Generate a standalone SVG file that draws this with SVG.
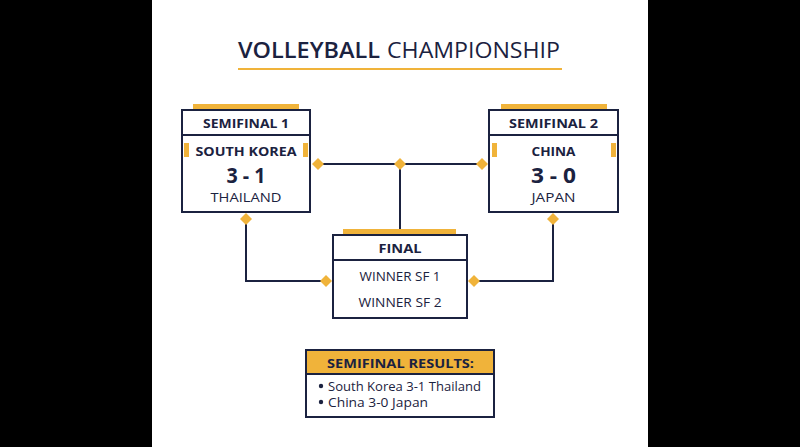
<svg xmlns="http://www.w3.org/2000/svg" width="800" height="447" viewBox="0 0 800 447">
<defs>
<style>
.t{font-family:"Open Sans","Liberation Sans",sans-serif;fill:#1b2240;text-anchor:middle;dominant-baseline:central}
.b{font-weight:700}
.m{font-weight:600}
.box{fill:#fff;stroke:#1b2240;stroke-width:2}
.div{stroke:#1b2240;stroke-width:2}
.gold{fill:#f0b33a}
.ln{fill:none;stroke:#1b2240;stroke-width:2}
</style>
<path id="dm" d="M0,-6 L6,0 L0,6 L-6,0 Z" fill="#f0b33a"/>
</defs>
<rect width="800" height="447" fill="#000"/>
<rect x="152" y="0" width="496" height="447" fill="#fff"/>
<g id="title">
<text class="t m" x="309" y="49" font-size="22" textLength="142" lengthAdjust="spacingAndGlyphs">VOLLEYBALL</text>
<text class="t" x="473.5" y="49" font-size="22" textLength="173" lengthAdjust="spacingAndGlyphs">CHAMPIONSHIP</text>
<rect class="gold" x="238" y="68" width="324" height="2"/>
</g>
<g id="connectors">
<path class="ln" d="M318,164 H482 M400,164 V235 M246,219 V281 H326 M553,219 V281 H474"/>
<use href="#dm" x="318" y="164"/>
<use href="#dm" x="400" y="164"/>
<use href="#dm" x="482" y="164"/>
<use href="#dm" x="246" y="219"/>
<use href="#dm" x="553" y="219"/>
<use href="#dm" x="326" y="281"/>
<use href="#dm" x="474" y="281"/>
</g>
<g id="sf1">
<rect class="gold" x="193" y="104" width="106" height="6"/>
<rect class="box" x="182" y="110" width="128" height="102"/>
<line class="div" x1="182" y1="135" x2="310" y2="135"/>
<rect class="gold" x="184" y="143" width="5" height="14"/>
<rect class="gold" x="303" y="143" width="5" height="14"/>
<text class="t b" x="246" y="123" font-size="13" textLength="86" lengthAdjust="spacingAndGlyphs">SEMIFINAL 1</text>
<text class="t b" x="246" y="151" font-size="13" textLength="101" lengthAdjust="spacingAndGlyphs">SOUTH KOREA</text>
<text class="t b" x="246" y="175" font-size="21" textLength="39" lengthAdjust="spacingAndGlyphs">3 - 1</text>
<text class="t" x="246" y="197" font-size="13" textLength="71" lengthAdjust="spacingAndGlyphs">THAILAND</text>
</g>
<g id="sf2">
<rect class="gold" x="501" y="104" width="106" height="6"/>
<rect class="box" x="489" y="110" width="129" height="102"/>
<line class="div" x1="489" y1="135" x2="618" y2="135"/>
<rect class="gold" x="492" y="143" width="5" height="14"/>
<rect class="gold" x="611" y="143" width="5" height="14"/>
<text class="t b" x="553.5" y="123" font-size="13" textLength="89" lengthAdjust="spacingAndGlyphs">SEMIFINAL 2</text>
<text class="t b" x="553.5" y="151" font-size="13" textLength="44" lengthAdjust="spacingAndGlyphs">CHINA</text>
<text class="t b" x="553.5" y="175" font-size="21" textLength="45" lengthAdjust="spacingAndGlyphs">3 - 0</text>
<text class="t" x="553.5" y="197" font-size="13" textLength="44" lengthAdjust="spacingAndGlyphs">JAPAN</text>
</g>
<g id="final">
<rect class="gold" x="343" y="229" width="113" height="6"/>
<rect class="box" x="333" y="235" width="134" height="83"/>
<line class="div" x1="333" y1="260" x2="467" y2="260"/>
<text class="t b" x="400" y="248" font-size="13" textLength="43" lengthAdjust="spacingAndGlyphs">FINAL</text>
<text class="t" x="400" y="276" font-size="12" textLength="81" lengthAdjust="spacingAndGlyphs">WINNER SF 1</text>
<text class="t" x="400" y="302" font-size="12" textLength="83" lengthAdjust="spacingAndGlyphs">WINNER SF 2</text>
</g>
<g id="results">
<rect class="box" x="306" y="350" width="188" height="67"/>
<rect class="gold" x="307" y="351" width="186" height="23"/>
<line class="div" x1="306" y1="374" x2="494" y2="374"/>
<text class="t b" x="400.5" y="363" font-size="13" textLength="147" lengthAdjust="spacingAndGlyphs">SEMIFINAL RESULTS:</text>
<circle cx="321" cy="386" r="2.2" fill="#1b2240"/>
<circle cx="321" cy="402" r="2.2" fill="#1b2240"/>
<text class="t" x="328" y="386" font-size="12" style="text-anchor:start" textLength="153" lengthAdjust="spacingAndGlyphs">South Korea 3-1 Thailand</text>
<text class="t" x="328" y="402" font-size="12" style="text-anchor:start" textLength="100" lengthAdjust="spacingAndGlyphs">China 3-0 Japan</text>
</g>
</svg>
